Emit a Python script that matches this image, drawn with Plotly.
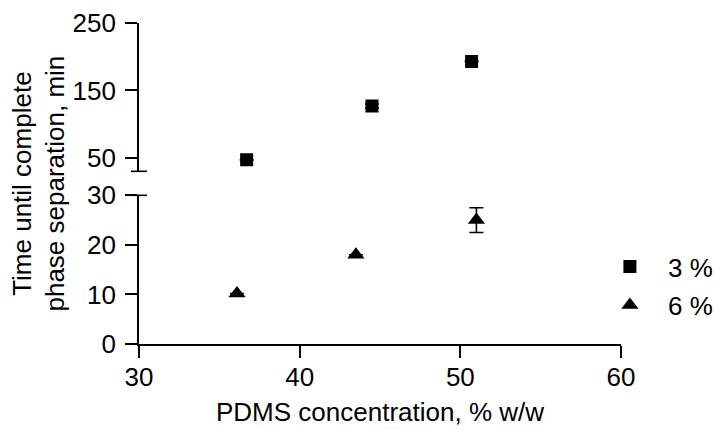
import plotly.graph_objects as go

# ---- data ----
sq_x = [36.7, 44.5, 50.7]
sq_y = [47, 127, 193]
sq_err = [0, 3, 0]

tri_x = [36.1, 43.5, 51.0]
tri_y = [10.2, 18.0, 25.0]
tri_err = [0, 0, 2.5]

series_names = ["3 %", "6 %"]
x_ticks = [30, 40, 50, 60]
y_low_ticks = [0, 10, 20, 30]
y_high_ticks = [50, 150, 250]

FONT = "Liberation Sans, Arial, sans-serif"
FS = 26
LW = 1.6

fig = go.Figure()

# squares (3 %) on the upper (broken) axis
fig.add_trace(go.Scatter(
    x=sq_x, y=sq_y, mode="markers", name="\u2002\u2009" + series_names[0],
    xaxis="x", yaxis="y2", legend="legend", showlegend=True,
    marker=dict(symbol="square", size=13, color="black"),
    error_y=dict(type="data", array=sq_err, visible=True, color="black",
                 thickness=LW, width=7),
))
# triangles (6 %) on the lower axis
fig.add_trace(go.Scatter(
    x=tri_x, y=tri_y, mode="markers", name="\u2002\u2009" + series_names[1],
    xaxis="x", yaxis="y", legend="legend2", showlegend=True,
    marker=dict(symbol="triangle-up", size=15, color="black"),
    error_y=dict(type="data", array=tri_err, visible=True, color="black",
                 thickness=LW, width=7),
))

axis_common = dict(
    showgrid=False, zeroline=False, showline=True, linecolor="black",
    linewidth=LW, ticks="outside", tickcolor="black", tickwidth=LW,
    ticklen=12, tickfont=dict(family=FONT, size=FS, color="black"),
)

fig.update_layout(
    width=714, height=430,
    margin=dict(l=139, r=93, t=23, b=86, autoexpand=False),
    paper_bgcolor="white", plot_bgcolor="white",
    font=dict(family=FONT, size=FS, color="black"),
    showlegend=True,
    xaxis=dict(range=[30, 60], tickvals=x_ticks, ticklabelstandoff=-3,
               anchor="y", domain=[0, 1],
               title=dict(text="PDMS concentration, % w/w",
                          font=dict(family=FONT, size=FS), standoff=12),
               **axis_common),
    yaxis=dict(range=[0, 30], tickvals=y_low_ticks, ticklabelstandoff=4,
               domain=[0, 0.4632], anchor="x", **axis_common),
    yaxis2=dict(range=[30, 250], tickvals=y_high_ticks, ticklabelstandoff=4,
                domain=[0.538, 1], anchor="x", **axis_common),
    legend=dict(x=0.977, y=0.2408, xanchor="left", yanchor="middle",
                bgcolor="rgba(0,0,0,0)", borderwidth=0,
                font=dict(family=FONT, size=FS)),
    legend2=dict(x=0.977, y=0.1215, xanchor="left", yanchor="middle",
                 bgcolor="rgba(0,0,0,0)", borderwidth=0,
                 font=dict(family=FONT, size=FS)),
    annotations=[dict(
        text="Time until complete<br>phase separation, min",
        xref="paper", yref="paper", x=-0.2095, y=0.5,
        xanchor="center", yanchor="middle", textangle=-90, showarrow=False,
        font=dict(family=FONT, size=FS, color="black"),
    )],
    shapes=[
        dict(type="line", xref="x domain", xsizemode="pixel", xanchor=0,
             x0=-8, x1=8, yref="y2 domain", y0=0, y1=0,
             line=dict(color="black", width=LW)),
        dict(type="line", xref="x domain", xsizemode="pixel", xanchor=0,
             x0=-8, x1=8, yref="y domain", y0=1, y1=1,
             line=dict(color="black", width=LW)),
    ],
)

fig.write_html("out.html")
